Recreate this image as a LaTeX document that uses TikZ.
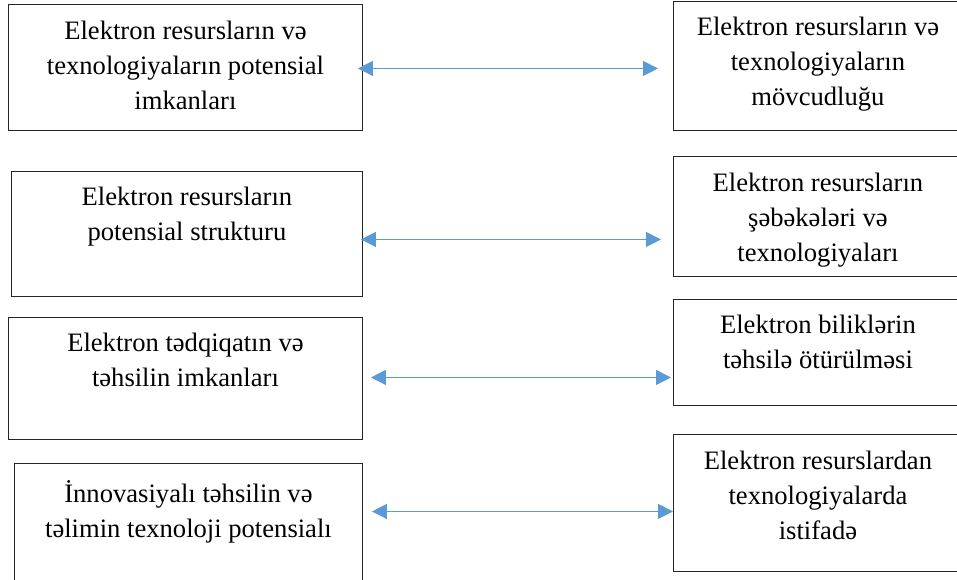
\documentclass[tikz,border=0pt]{standalone}
\usepackage{fontspec}
\setmainfont{Liberation Serif}
\usetikzlibrary{arrows.meta}
\definecolor{arrblue}{HTML}{5B9BD5}
\definecolor{boxline}{HTML}{262626}
\tikzset{
  box/.style={draw=boxline, line width=0.9pt, rectangle, inner sep=0pt, anchor=north west},
  boxtext/.style={anchor=north, inner sep=0pt, align=center, font=\fontsize{26.6}{35}\selectfont},
  arr/.style={draw=arrblue, line width=1.1pt, {Triangle[length=15pt,width=15pt]}-{Triangle[length=15pt,width=15pt]}}
}
\begin{document}
\begin{tikzpicture}[x=1pt,y=-1pt]
\useasboundingbox (0,0) rectangle (957,579);
\clip (0,0) rectangle (957,579);
% left boxes
\node[box, minimum width=354pt, minimum height=126pt] (L1) at (8,4) {};
\node[box, minimum width=351pt, minimum height=125pt] (L2) at (11,171) {};
\node[box, minimum width=354pt, minimum height=122pt] (L3) at (8,317) {};
\node[box, minimum width=348pt, minimum height=140pt] (L4) at (14,463) {};
% right boxes
\node[box, minimum width=289pt, minimum height=129pt] (R1) at (673,1) {};
\node[box, minimum width=289pt, minimum height=120pt] (R2) at (673,156) {};
\node[box, minimum width=289pt, minimum height=106pt] (R3) at (673,299) {};
\node[box, minimum width=289pt, minimum height=137pt] (R4) at (673,434) {};
% texts
\node[boxtext] (L1t) at ([yshift=-17pt]L1.north) {Elektron resursların və\\texnologiyaların potensial\\imkanları};
\node[boxtext] (L2t) at ([yshift=-16pt]L2.north) {Elektron resursların\\potensial strukturu};
\node[boxtext] (L3t) at ([yshift=-16pt]L3.north) {Elektron tədqiqatın və\\təhsilin imkanları};
\node[boxtext] (L4t) at ([yshift=-17pt]L4.north) {İnnovasiyalı təhsilin və\\təlimin texnoloji potensialı};
\node[boxtext] (R1t) at ([yshift=-16pt]R1.north) {Elektron resursların və\\texnologiyaların\\mövcudluğu};
\node[boxtext] (R2t) at ([yshift=-17pt]R2.north) {Elektron resursların\\şəbəkələri və\\texnologiyaları};
\node[boxtext] (R3t) at ([yshift=-16pt]R3.north) {Elektron biliklərin\\təhsilə ötürülməsi};
\node[boxtext] (R4t) at ([yshift=-17pt]R4.north) {Elektron resurslardan\\texnologiyalarda\\istifadə};
% connectors
\draw[arr] ([xshift=-5pt,yshift=-1pt]L1.east) -- ([xshift=-15pt,yshift=-1pt]L1.east -| R1.west);
\draw[arr] ([xshift=-2pt,yshift=-5.5pt]L2.east) -- ([xshift=-12pt,yshift=-5.5pt]L2.east -| R2.west);
\draw[arr] ([xshift=8pt,yshift=1pt]L3.east) -- ([xshift=-2pt,yshift=1pt]L3.east -| R3.west);
\draw[arr] ([xshift=9pt,yshift=-8.5pt]R4.west -| L4.east) -- ([yshift=-8.5pt]R4.west);
\end{tikzpicture}
\end{document}
